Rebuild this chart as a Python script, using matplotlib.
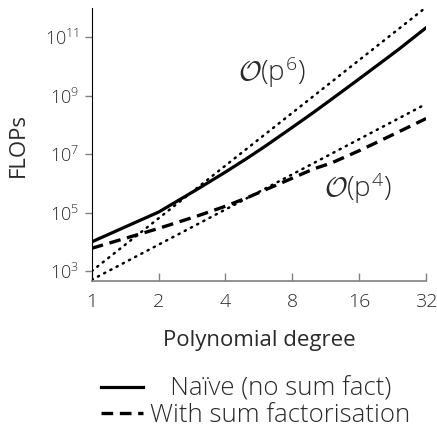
import numpy as np
import matplotlib
matplotlib.use("Agg")
import matplotlib.pyplot as plt
from matplotlib.ticker import FixedLocator, FixedFormatter

plt.rcParams['font.family'] = ['Open Sans', 'DejaVu Sans']
plt.rcParams['font.weight'] = 'light'
plt.rcParams['mathtext.fontset'] = 'custom'
plt.rcParams['mathtext.rm'] = 'Open Sans:light'
plt.rcParams['mathtext.it'] = 'Open Sans:light'
plt.rcParams['mathtext.cal'] = 'cmsy10'

# polynomial degree
degree = [1, 2, 3, 4, 5, 6, 8, 10, 12, 16, 20, 24, 32]
# log10 of FLOPs
naive_log = [4.00, 5.02, 5.81, 6.39, 6.86, 7.26, 7.92, 8.44, 8.88, 9.58, 10.13, 10.58, 11.33]
sumfact_log = [3.78, 4.46, 4.89, 5.22, 5.51, 5.77, 6.18, 6.50, 6.70, 7.12, 7.47, 7.76, 8.22]
# reference slopes
ref_p = [1, 32]
ref6_log = [3.0, 12.03]
ref4_log = [2.70, 8.72]

naive = [10 ** v for v in naive_log]
sumfact = [10 ** v for v in sumfact_log]
ref6 = [10 ** v for v in ref6_log]
ref4 = [10 ** v for v in ref4_log]

xticks = [1, 2, 4, 8, 16, 32]
yticks = [1e3, 1e5, 1e7, 1e9, 1e11]
ylabels = ['$10^{3}$', '$10^{5}$', '$10^{7}$', '$10^{9}$', '$10^{11}$']

txt = '#2a2a2a'
fig = plt.figure(figsize=(4.37, 4.29), dpi=100)
ax = fig.add_axes([0.21, 0.345, 0.765, 0.636])

dots = (0, (0.5, 2.3))
ax.plot(ref_p, ref6, color='black', lw=1.8, ls=dots, dash_capstyle='round')
ax.plot(ref_p, ref4, color='black', lw=1.8, ls=dots, dash_capstyle='round')
l1, = ax.plot(degree, naive, color='black', lw=2.3)
l2, = ax.plot(degree, sumfact, color='black', lw=2.4, ls=(0, (3.5, 2)))

ax.set_xscale('log', base=2)
ax.set_yscale('log')
ax.set_xlim(1, 32)
ax.set_ylim(10 ** 2.66, 10 ** 12.0)

ax.xaxis.set_major_locator(FixedLocator(xticks))
ax.xaxis.set_major_formatter(FixedFormatter([str(v) for v in xticks]))
ax.xaxis.set_minor_locator(FixedLocator([]))
ax.yaxis.set_major_locator(FixedLocator(yticks))
ax.yaxis.set_major_formatter(FixedFormatter(ylabels))
ax.yaxis.set_minor_locator(FixedLocator([]))

for s in ['top', 'right']:
    ax.spines[s].set_visible(False)
ax.spines['left'].set_color('black')
ax.spines['bottom'].set_color('#808080')
ax.spines['bottom'].set_linewidth(1.2)
ax.tick_params(axis='x', direction='in', length=6, color='#808080', width=1,
               labelsize=14, labelcolor=txt, pad=9)
ax.tick_params(axis='y', direction='out', length=5, color='#808080', width=1,
               labelsize=13, labelcolor=txt, pad=4)

ax.set_xlabel('Polynomial degree', fontsize=16, color=txt, labelpad=13)
ax.set_ylabel('FLOPs', fontsize=16, color=txt, labelpad=12)

ax.text(0.54, 0.766, r'$\mathcal{O}(p^{6})$', transform=ax.transAxes,
        fontsize=20, color=txt, ha='center', va='center')
ax.text(0.797, 0.34, r'$\mathcal{O}(p^{4})$', transform=ax.transAxes,
        fontsize=20, color=txt, ha='center', va='center')

leg = fig.legend([l1, l2], ['   Naïve (no sum fact)', 'With sum factorisation'],
                 loc='center left', bbox_to_anchor=(0.231, 0.062), frameon=False,
                 fontsize=18.5, handlelength=1.63, handletextpad=0.27, labelspacing=0.05,
                 borderaxespad=0, borderpad=0)
for t in leg.get_texts():
    t.set_color(txt)

fig.savefig('out.png', dpi=100)
